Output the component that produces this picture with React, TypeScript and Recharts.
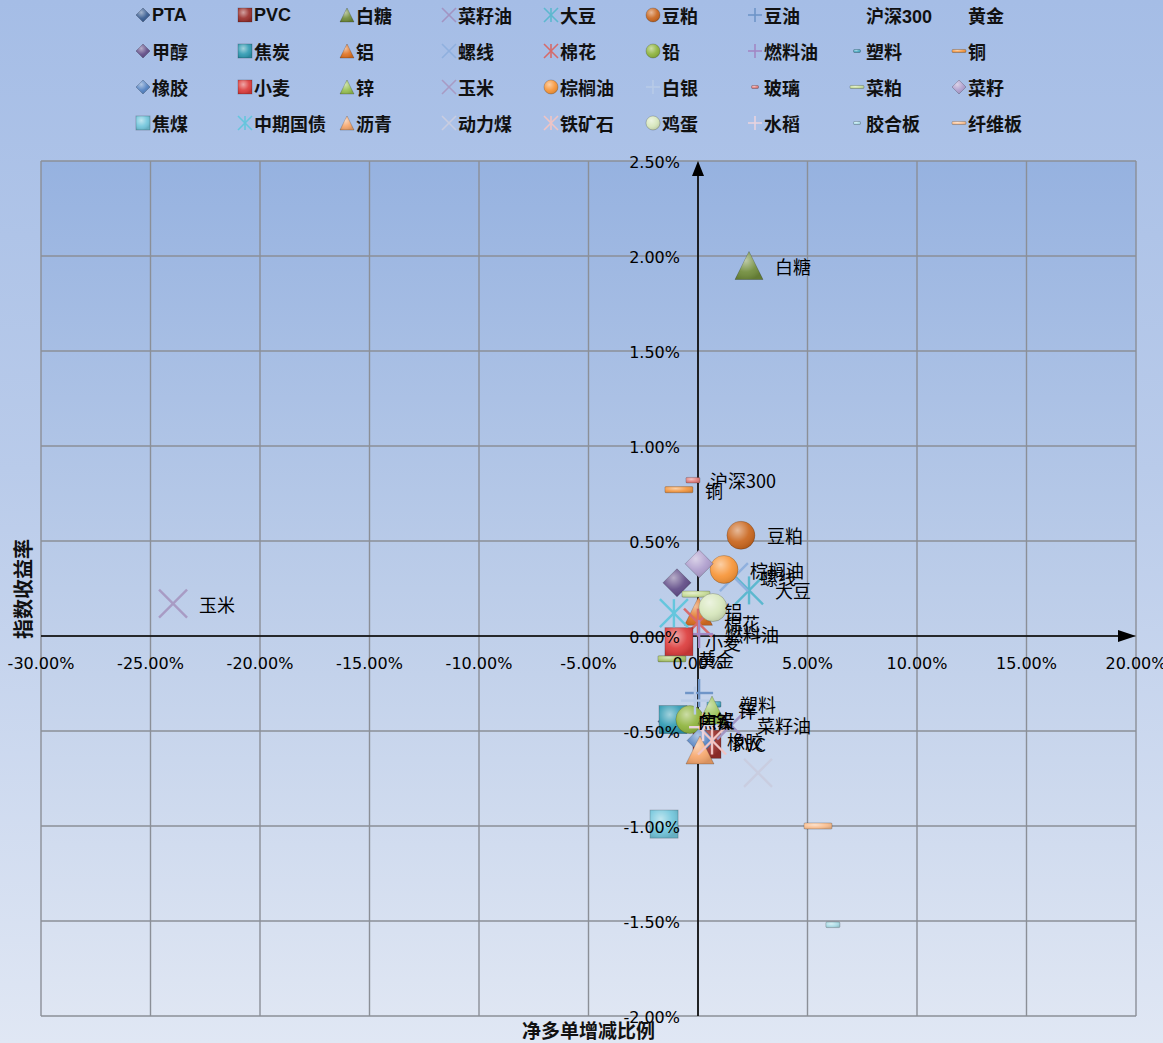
import React from 'react';
import { ScatterChart, Scatter, XAxis, YAxis, CartesianGrid, ReferenceLine, Legend } from 'recharts';

// 品种（按图例顺序）
const seriesNames = [
  'PTA', 'PVC', '白糖', '菜籽油', '大豆', '豆粕', '豆油', '沪深300', '黄金',
  '甲醇', '焦炭', '铝', '螺线', '棉花', '铅', '燃料油', '塑料', '铜',
  '橡胶', '小麦', '锌', '玉米', '棕榈油', '白银', '玻璃', '菜粕', '菜籽',
  '焦煤', '中期国债', '沥青', '动力煤', '铁矿石', '鸡蛋', '水稻', '胶合板', '纤维板',
];

// 净多单增减比例 (%)
const netLongChange = [
  -1.19, 0.41, 2.33, 1.51, 2.33, 1.96, 0.05, -0.64, -1.19,
  -0.96, -1.14, 0.02, 1.64, 0.0, -0.37, 0.05, 0.73, -0.87,
  0.14, -0.87, 0.64, -23.97, 1.19, -0.14, -0.23, -0.09, 0.05,
  -1.55, -1.1, 0.09, 2.74, 0.64, 0.68, 0.23, 6.16, 5.48,
];

// 指数收益率 (%)
const indexReturn = [
  -0.45, -0.57, 1.95, -0.47, 0.24, 0.53, -0.3, 0.82, -0.12,
  0.28, -0.44, 0.13, 0.31, 0.07, -0.44, 0.01, -0.36, 0.77,
  -0.55, -0.03, -0.39, 0.17, 0.35, -0.34, 0.82, 0.22, 0.38,
  -0.99, 0.12, -0.6, -0.72, -0.55, 0.15, -0.48, -1.52, -1.0,
];

// 带数据标签的品种
const labeledSeries = [
  'PTA', 'PVC', '白糖', '菜籽油', '大豆', '豆粕', '沪深300', '黄金', '焦炭', '铝', '螺线',
  '棉花', '铅', '燃料油', '塑料', '铜', '橡胶', '小麦', '锌', '玉米', '棕榈油',
];

const xTicks = [-30, -25, -20, -15, -10, -5, 0, 5, 10, 15, 20];
const yTicks = [-2, -1.5, -1, -0.5, 0, 0.5, 1, 1.5, 2, 2.5];

const W = 1163;
const H = 1043;
const AXIS_SIZE = 1;
const margin = { top: 161, right: 27, bottom: 27 - AXIS_SIZE, left: 41 - AXIS_SIZE };
const xDomain = [xTicks[0], xTicks[xTicks.length - 1]];
const yDomain = [yTicks[0], yTicks[yTicks.length - 1]];
const plotLeft = margin.left + AXIS_SIZE;
const plotW = W - plotLeft - margin.right;
const plotH = H - margin.top - margin.bottom - AXIS_SIZE;
const zeroX = plotLeft + (plotW * (0 - xDomain[0])) / (xDomain[1] - xDomain[0]);
const zeroY = margin.top + (plotH * (yDomain[1] - 0)) / (yDomain[1] - yDomain[0]);

type Kind = 'diamond' | 'square' | 'triangle' | 'circle' | 'x' | 'star' | 'plus' | 'dash' | 'dashS' | 'none';

const markerStyles: Record<string, { kind: Kind; color: string; legend?: boolean }> = {
  PTA: { kind: 'diamond', color: '#34598f' },
  PVC: { kind: 'square', color: '#9a2f2c' },
  白糖: { kind: 'triangle', color: '#6f8b3a' },
  菜籽油: { kind: 'x', color: '#a294c2' },
  大豆: { kind: 'star', color: '#5cb8cf' },
  豆粕: { kind: 'circle', color: '#c9651c' },
  豆油: { kind: 'plus', color: '#6f95c8' },
  沪深300: { kind: 'none', color: '#000' },
  黄金: { kind: 'dash', color: '#a9c46a', legend: false },
  甲醇: { kind: 'diamond', color: '#5f4a86' },
  焦炭: { kind: 'square', color: '#2f9ab2' },
  铝: { kind: 'triangle', color: '#e07222' },
  螺线: { kind: 'x', color: '#8fb0de' },
  棉花: { kind: 'star', color: '#d66a6a' },
  铅: { kind: 'circle', color: '#8db33b' },
  燃料油: { kind: 'plus', color: '#a287c4' },
  塑料: { kind: 'dashS', color: '#45a7c0' },
  铜: { kind: 'dash', color: '#f2953e' },
  橡胶: { kind: 'diamond', color: '#4f7fc0' },
  小麦: { kind: 'square', color: '#dc3c3c' },
  锌: { kind: 'triangle', color: '#97c052' },
  玉米: { kind: 'x', color: '#a89bc4' },
  棕榈油: { kind: 'circle', color: '#f79436' },
  白银: { kind: 'plus', color: '#b8cbe8' },
  玻璃: { kind: 'dashS', color: '#e07a78' },
  菜粕: { kind: 'dash', color: '#c6dc96' },
  菜籽: { kind: 'diamond', color: '#ad9ccc' },
  焦煤: { kind: 'square', color: '#72c6dc' },
  中期国债: { kind: 'star', color: '#65c6dd' },
  沥青: { kind: 'triangle', color: '#f6a66c' },
  动力煤: { kind: 'x', color: '#c9cde0' },
  铁矿石: { kind: 'star', color: '#f0c4c4' },
  鸡蛋: { kind: 'circle', color: '#d6e6bb' },
  水稻: { kind: 'plus', color: '#e8d3df' },
  胶合板: { kind: 'dashS', color: '#a9dbe6' },
  纤维板: { kind: 'dash', color: '#f9bd8e' },
};

const drawMarker = (kind: Kind, color: string, cx: number, cy: number, s: number) => {
  const h = s / 2;
  const edge = 'rgba(0,0,0,0.25)';
  switch (kind) {
    case 'diamond': {
      const pts = `${cx},${cy - h} ${cx + h},${cy} ${cx},${cy + h} ${cx - h},${cy}`;
      return (
        <g>
          <polygon points={pts} fill={color} stroke={edge} strokeWidth={0.8} />
          <polygon points={pts} fill="url(#shine)" />
        </g>
      );
    }
    case 'square':
      return (
        <g>
          <rect x={cx - h} y={cy - h} width={s} height={s} fill={color} stroke={edge} strokeWidth={0.8} />
          <rect x={cx - h} y={cy - h} width={s} height={s} fill="url(#shine)" />
        </g>
      );
    case 'triangle': {
      const pts = `${cx},${cy - h} ${cx + h},${cy + h} ${cx - h},${cy + h}`;
      return (
        <g>
          <polygon points={pts} fill={color} stroke={edge} strokeWidth={0.8} />
          <polygon points={pts} fill="url(#shine)" />
        </g>
      );
    }
    case 'circle':
      return (
        <g>
          <circle cx={cx} cy={cy} r={h} fill={color} stroke={edge} strokeWidth={0.8} />
          <circle cx={cx} cy={cy} r={h} fill="url(#shine)" />
        </g>
      );
    case 'x':
      return (
        <g stroke={color} strokeWidth={s > 20 ? 2.4 : 1.6}>
          <line x1={cx - h} y1={cy - h} x2={cx + h} y2={cy + h} />
          <line x1={cx - h} y1={cy + h} x2={cx + h} y2={cy - h} />
        </g>
      );
    case 'star':
      return (
        <g stroke={color} strokeWidth={s > 20 ? 2.4 : 1.6}>
          <line x1={cx - h} y1={cy - h} x2={cx + h} y2={cy + h} />
          <line x1={cx - h} y1={cy + h} x2={cx + h} y2={cy - h} />
          <line x1={cx} y1={cy - h} x2={cx} y2={cy + h} />
        </g>
      );
    case 'plus':
      return (
        <g stroke={color} strokeWidth={s > 20 ? 2.4 : 1.6}>
          <line x1={cx - h} y1={cy} x2={cx + h} y2={cy} />
          <line x1={cx} y1={cy - h} x2={cx} y2={cy + h} />
        </g>
      );
    case 'dash': {
      const dh = Math.max(3, s * 0.22);
      return (
        <g>
          <rect x={cx - h} y={cy - dh / 2} width={s} height={dh} rx={1} fill={color} stroke={edge} strokeWidth={0.8} />
          <rect x={cx - h} y={cy - dh / 2} width={s} height={dh} rx={1} fill="url(#shine)" />
        </g>
      );
    }
    case 'dashS': {
      const w = s * 0.5;
      const dh = Math.max(3, s * 0.2);
      return (
        <g>
          <rect x={cx - w / 2} y={cy - dh / 2} width={w} height={dh} rx={1} fill={color} stroke={edge} strokeWidth={0.8} />
          <rect x={cx - w / 2} y={cy - dh / 2} width={w} height={dh} rx={1} fill="url(#shine)" />
        </g>
      );
    }
    default:
      return <g />;
  }
};

const XTick = (props: any) => (
  <text
    x={props.x}
    y={zeroY + 27}
    textAnchor="middle"
    dominantBaseline="central"
    fontFamily="'DejaVu Sans', sans-serif"
    fontSize={16}
    fill="#000"
  >
    {`${Number(props.payload.value).toFixed(2)}%`}
  </text>
);

const YTick = (props: any) => (
  <text
    x={zeroX - 18}
    y={props.y + 1}
    textAnchor="end"
    dominantBaseline="central"
    fontFamily="'DejaVu Sans', sans-serif"
    fontSize={16}
    fill="#000"
  >
    {`${Number(props.payload.value).toFixed(2)}%`}
  </text>
);

const AxisArrow = (props: any) => {
  const { x1, y1, x2, y2 } = props;
  if (Math.abs(y1 - y2) < 0.5) {
    const a = Math.min(x1, x2);
    const b = Math.max(x1, x2);
    return (
      <g>
        <line x1={a} y1={y1} x2={b - 10} y2={y1} stroke="#000" strokeWidth={1.6} />
        <polygon points={`${b},${y1} ${b - 18},${y1 - 6} ${b - 18},${y1 + 6}`} fill="#000" />
      </g>
    );
  }
  const top = Math.min(y1, y2);
  const bottom = Math.max(y1, y2);
  return (
    <g>
      <line x1={x1} y1={bottom} x2={x1} y2={top + 8} stroke="#000" strokeWidth={1.6} />
      <polygon points={`${x1},${top} ${x1 - 6},${top + 15} ${x1 + 6},${top + 15}`} fill="#000" />
    </g>
  );
};

const LegendGrid = () => (
  <div style={{ position: 'relative', width: W, height: 140 }}>
    {seriesNames.map((name, i) => {
      const col = i % 9;
      const row = Math.floor(i / 9);
      const st = markerStyles[name];
      return (
        <div
          key={name}
          style={{
            position: 'absolute',
            left: 135 + col * 102,
            top: 15 + row * 36 - 12,
            height: 24,
            display: 'flex',
            alignItems: 'center',
            whiteSpace: 'nowrap',
            fontFamily: "'Liberation Sans', 'Noto Sans CJK SC', sans-serif",
            fontWeight: 'bold',
            fontSize: 18,
            color: '#111',
          }}
        >
          <svg width={16} height={16} style={{ marginRight: 1 }}>
            {st.legend === false ? null : drawMarker(st.kind, st.color, 8, 8, 14)}
          </svg>
          <span>{name}</span>
        </div>
      );
    })}
  </div>
);

const App: React.FC = () => {
  const points = seriesNames.map((name, i) => ({ name, x: netLongChange[i], y: indexReturn[i] }));
  const labelPoints = points.filter((p) => labeledSeries.includes(p.name));

  return (
    <div
      style={{
        position: 'absolute',
        left: 0,
        top: 0,
        width: W,
        height: H,
        overflow: 'hidden',
        background: 'linear-gradient(180deg, #a5bde6 0%, #b9cbea 45%, #e0e7f4 100%)',
      }}
    >
      <ScatterChart width={W} height={H} margin={margin}>
        <defs>
          <linearGradient id="plotBg" x1="0" y1="0" x2="0" y2="1">
            <stop offset="0%" stopColor="#96b2e0" />
            <stop offset="50%" stopColor="#bccde9" />
            <stop offset="100%" stopColor="#dfe6f3" />
          </linearGradient>
          <radialGradient id="shine" cx="38%" cy="32%" r="70%">
            <stop offset="0%" stopColor="#ffffff" stopOpacity={0.55} />
            <stop offset="60%" stopColor="#ffffff" stopOpacity={0.08} />
            <stop offset="100%" stopColor="#000000" stopOpacity={0.12} />
          </radialGradient>
        </defs>
        <CartesianGrid fill="url(#plotBg)" fillOpacity={1} stroke="#8b8f97" strokeWidth={1.4} />
        <XAxis
          type="number"
          dataKey="x"
          domain={xDomain}
          ticks={xTicks}
          interval={0}
          height={AXIS_SIZE}
          axisLine={false}
          tickLine={false}
          tick={<XTick />}
          allowDataOverflow
        />
        <YAxis
          type="number"
          dataKey="y"
          domain={yDomain}
          ticks={yTicks}
          interval={0}
          width={AXIS_SIZE}
          axisLine={false}
          tickLine={false}
          tick={<YTick />}
          allowDataOverflow
        />
        <ReferenceLine y={0} shape={AxisArrow} />
        <ReferenceLine x={0} shape={AxisArrow} />
        <Legend
          layout="horizontal"
          verticalAlign="middle"
          align="center"
          wrapperStyle={{ top: 0, left: 0, width: W, height: 140 }}
          content={() => <LegendGrid />}
        />
        {points.map((p) => {
          const st = markerStyles[p.name];
          return (
            <Scatter
              key={p.name}
              name={p.name}
              data={[p]}
              isAnimationActive={false}
              shape={(sp: any) => drawMarker(st.kind, st.color, sp.cx, sp.cy, 28)}
            />
          );
        })}
        <Scatter
          name="labels"
          data={labelPoints}
          legendType="none"
          isAnimationActive={false}
          shape={(sp: any) => (
            <text
              x={sp.cx + 26}
              y={sp.cy}
              dominantBaseline="central"
              fontFamily="'Noto Sans CJK SC', sans-serif"
              fontSize={18}
              fill="#000"
            >
              {sp.payload.name}
            </text>
          )}
        />
      </ScatterChart>
      <div
        style={{
          position: 'absolute',
          left: plotLeft,
          width: plotW,
          top: 1019,
          textAlign: 'center',
          fontFamily: "'Noto Sans CJK SC', sans-serif",
          fontWeight: 'bold',
          fontSize: 19,
          color: '#111',
          lineHeight: '22px',
        }}
      >
        净多单增减比例
      </div>
      <div
        style={{
          position: 'absolute',
          left: 23 - 60,
          top: margin.top + plotH / 2 - 12,
          width: 120,
          textAlign: 'center',
          transform: 'rotate(-90deg)',
          fontFamily: "'Noto Sans CJK SC', sans-serif",
          fontWeight: 'bold',
          fontSize: 20,
          color: '#111',
          lineHeight: '24px',
        }}
      >
        指数收益率
      </div>
    </div>
  );
};

export default App;
